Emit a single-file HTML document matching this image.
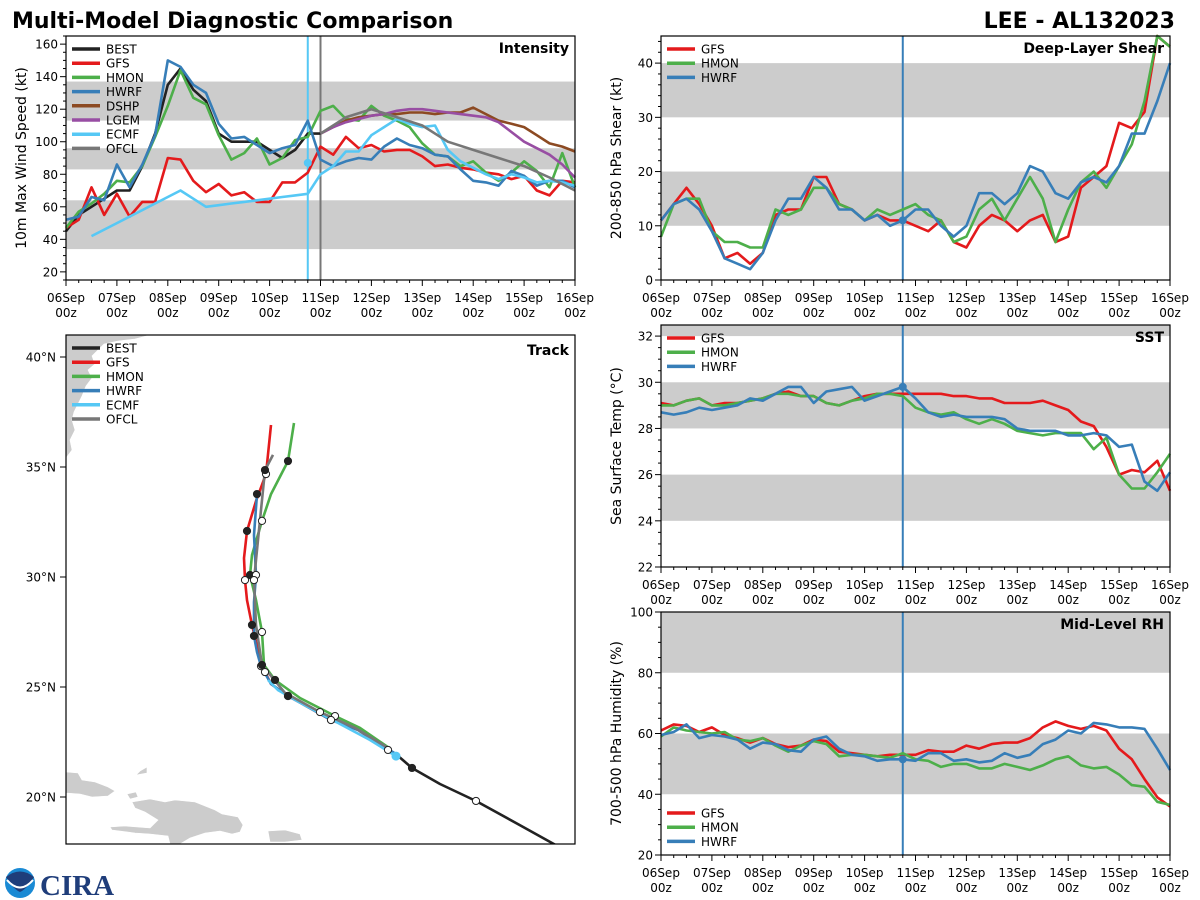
<!DOCTYPE html>
<html><head><meta charset="utf-8">
<style>
html,body{margin:0;padding:0;background:#fff;}
svg{display:block;font-family:"DejaVu Sans","Liberation Sans",sans-serif;}
</style></head>
<body>
<svg id="fig" width="1200" height="900" viewBox="0 0 1200 900" xmlns="http://www.w3.org/2000/svg">
<rect width="1200" height="900" fill="#fff"/>
<text x="12" y="28" font-size="22" font-weight="bold">Multi-Model Diagnostic Comparison</text>
<text x="1175" y="28" font-size="22" font-weight="bold" text-anchor="end">LEE - AL132023</text>
<g id="logo">
  <circle cx="20" cy="883" r="15" fill="#1a8ad4"/>
  <path d="M6,877 Q20,866 34,877 Q27,889 20,892 Q13,889 6,877Z" fill="#1f3d7a"/>
  <path d="M7,880 Q20,895 33,880" fill="none" stroke="#fff" stroke-width="2"/>
  <text x="40" y="895" font-size="29" font-weight="bold" fill="#1f3d7a" font-family="Liberation Serif,serif">CIRA</text>
</g>
</svg>
<script>
// ---------- DATA ----------
const dayLabels = ["06Sep","07Sep","08Sep","09Sep","10Sep","11Sep","12Sep","13Sep","14Sep","15Sep","16Sep"];
const N = null;
const intBEST = [45,55,60,65,70,70,85,105,135,145,132,125,105,100,100,100,95,90,95,105,105];
const intGFS  = [47,52,72,55,68,54,63,63,90,89,76,69,74,67,69,63,63,75,75,81,97,92,103,96,98,94,95,95,91,85,86,84,83,81,80,77,79,70,67,76,75];
const intHMON = [47,57,62,68,76,75,85,103,122,144,127,123,104,89,93,102,86,90,101,103,119,122,114,113,122,116,113,109,99,92,91,85,88,81,76,81,88,82,72,93,72];
const intHWRF = [52,54,66,64,86,72,86,104,150,146,135,130,111,102,103,98,93,96,98,113,89,85,88,90,89,97,102,98,96,92,91,83,76,75,73,82,79,73,76,76,72];
const intDSHP = [N,N,N,N,N,N,N,N,N,N,N,N,N,N,N,N,N,N,N,N,105,109,113,115,116,117,117,118,118,117,118,118,121,117,113,111,109,104,99,97,94];
const intLGEM = [N,N,N,N,N,N,N,N,N,N,N,N,N,N,N,N,N,N,N,N,105,109,112,114,116,117,119,120,120,119,118,117,116,115,112,106,100,96,92,86,78];
const intECMF = [N,N,42,46,50,54,58,62,66,70,65,60,61,62,63,64,65,66,67,68,80,85,94,94,104,109,114,111,109,110,95,88,84,80,77,80,78,75,76,75,73];
const intOFCL = [N,N,N,N,N,N,N,N,N,N,N,N,N,N,N,N,N,N,N,N,105,N,115,N,120,N,115,N,110,N,100,N,95,N,90,N,85,N,78,N,70];

const shrGFS  = [11,14,17,14,10,4,5,3,5,12,13,13,19,19,14,13,11,12,11,11,10,9,11,7,6,10,12,11,9,11,12,7,8,17,19,21,29,28,31,45,43];
const shrHMON = [8,14,15,15,9,7,7,6,6,13,12,13,17,17,14,13,11,13,12,13,14,12,11,7,8,13,15,11,15,19,15,7,13,18,20,17,21,25,33,45,43];
const shrHWRF = [11,14,15,13,9,4,3,2,5,11,15,15,19,17,13,13,11,12,10,11,13,13,10,8,10,16,16,14,16,21,20,16,15,18,19,18,21,27,27,33,40];

const sstGFS  = [29.1,29.0,29.2,29.3,29.0,29.1,29.1,29.2,29.3,29.5,29.6,29.4,29.4,29.1,29.0,29.2,29.4,29.5,29.5,29.5,29.5,29.5,29.5,29.4,29.4,29.3,29.3,29.1,29.1,29.1,29.2,29.0,28.8,28.3,28.1,27.2,26.0,26.2,26.1,26.6,25.3];
const sstHMON = [29.0,29.0,29.2,29.3,29.0,29.0,29.1,29.2,29.3,29.5,29.5,29.4,29.4,29.1,29.0,29.2,29.3,29.5,29.5,29.4,28.9,28.7,28.6,28.7,28.4,28.2,28.4,28.2,27.9,27.8,27.7,27.8,27.8,27.8,27.1,27.6,26.0,25.4,25.4,26.1,26.9];
const sstHWRF = [28.7,28.6,28.7,28.9,28.8,28.9,29.0,29.3,29.2,29.5,29.8,29.8,29.1,29.6,29.7,29.8,29.2,29.4,29.6,29.8,29.3,28.7,28.5,28.6,28.5,28.5,28.5,28.4,28.0,27.9,27.9,27.9,27.7,27.7,27.8,27.7,27.2,27.3,25.7,25.3,26.1];

const rhGFS  = [61,63,62.5,60.5,62,59.5,58.5,57,58.5,56.5,55.5,56,58,57.5,54,53.5,53,52.5,53,53,53,54.5,54,54,56,55,56.5,57,57,58.5,62,64,62.5,61.5,62.5,61,55,51.5,45,39,36];
const rhHMON = [59,62,61,60.5,60,60.5,58,57.5,58.5,56,54,56,57.5,56.5,52.5,53,53,52.5,52,53.5,51.5,51,49,50,50,48.5,48.5,50,49,48,49.5,51.5,52.5,49.5,48.5,49,46.5,43,42.5,37.5,36.5];
const rhHWRF = [59.5,60.5,63,58.5,59.5,59,58,55,57,56.5,54.5,54,58,59,55,53,52.5,51,51.5,51.5,51,53.5,53.5,51,51.5,50.5,51,53.5,52,53,56.5,58,61,60,63.5,63,62,62,61.5,55,48];

const trkBESTlon = [-47.8,-49.95,-52.05,-53.85,-55.25,-56.05,-56.45];
const trkBESTlat = [17.68,18.77,19.82,20.59,21.32,21.95,22.14];
const trkGFSlon = [-56.45,-57.95,-59.3,-60.8,-61.45,-62.3,-62.6,-62.95,-63.25,-63.5,-63.6,-63.65,-63.5,-63.05,-62.55,-62.3];
const trkGFSlat = [22.14,23.05,23.5,24.27,24.59,25.14,25.68,26.68,27.82,28.95,29.86,30.86,32.09,33.45,34.68,36.91];
const trkHWRFlon = [-56.05,-57.95,-59.3,-60.8,-61.45,-62.3,-62.8,-63.0,-63.15,-63.15,-63.05,-63.15,-63.0];
const trkHWRFlat = [21.95,23.05,23.5,24.27,24.59,25.14,25.95,26.59,27.32,28.86,30.09,31.91,33.77];
const trkHMONlon = [-56.35,-57.85,-59.1,-60.85,-62.1,-62.65,-62.75,-63.05,-63.35,-63.25,-62.75,-62.3,-61.45,-61.15];
const trkHMONlat = [22.2,23.14,23.68,24.5,25.32,26.0,27.5,28.95,30.09,31.0,32.55,33.77,35.27,37.0];
const trkECMFlon = [-56.05,-57.35,-58.85,-60.8,-61.95,-62.45];
const trkECMFlat = [21.86,22.59,23.32,24.27,24.86,25.32];
const trkOFCLlon = [-56.45,-58.1,-59.85,-61.6,-62.75,-63.05,-63.15,-62.95,-62.6,-62.2];
const trkOFCLlat = [22.23,23.14,23.86,24.73,26.0,27.82,29.86,31.68,34.86,35.55];
const latTicks = [40,35,30,25,20];

const C = {BEST:"#222222",GFS:"#e41a1c",HMON:"#4daf4a",HWRF:"#377eb8",DSHP:"#8c4a22",LGEM:"#984ea3",ECMF:"#56c8f5",OFCL:"#777777"};
const NS = "http://www.w3.org/2000/svg";
const svg = document.getElementById('fig');
function mk(tag, attrs, parent){ const e=document.createElementNS(NS,tag); for(const k in attrs) e.setAttribute(k,attrs[k]); (parent||svg).appendChild(e); return e; }

function timePanel(cfg){
  const g = mk('g',{});
  
  
  const {x0,x1,y0,y1,ymin,ymax} = cfg;
  const X = i => x0 + (x1-x0)*i/40;
  const Y = v => y1 - (y1-y0)*(v-ymin)/(ymax-ymin);
  cfg.bands.forEach(b=>{
    const r = mk('rect',{x:x0,y:Y(Math.min(b[1],ymax)),width:x1-x0,height:Y(b[0])-Y(Math.min(b[1],ymax)),fill:'#cccccc'},g);
    
    
  });
  cfg.vlines.forEach(v=>{
    const l = mk('line',{x1:X(v.i),x2:X(v.i),y1:y0,y2:y1,stroke:v.c,'stroke-width':2},g);
    
    
  });
  cfg.series.forEach(s=>{
    let d='', pen=false;
    s.v.forEach((v,i)=>{ if(v===null) return; d += (pen?'L':'M')+X(i).toFixed(1)+','+Y(v).toFixed(1); pen=true; });
    const p = mk('path',{d:d,fill:'none',stroke:C[s.k],'stroke-width':2.6,'stroke-linejoin':'round'},g);
    
    
  });
  if(cfg.dot){
    const c = mk('circle',{cx:X(19),cy:Y(cfg.dot.v),r:4,fill:cfg.dot.c},g);
    
    
  }
  mk('rect',{x:x0,y:y0,width:x1-x0,height:y1-y0,fill:'none',stroke:'#000','stroke-width':1.2},g);
  for(let i=0;i<=40;i++){
    const major = i%4===0;
    mk('line',{x1:X(i),x2:X(i),y1:y1,y2:y1+(major?6:3),stroke:'#000','stroke-width':1},g);
    if(major && cfg.xlabels){
      const t=mk('text',{x:X(i),y:y1+22,'font-size':12,'text-anchor':'middle'},g); t.textContent=dayLabels[i/4];
      
      
      const t2=mk('text',{x:X(i),y:y1+37,'font-size':12,'text-anchor':'middle'},g); t2.textContent='00z';
      
      
    }
  }
  for(let v=Math.ceil(ymin/cfg.minor)*cfg.minor; v<=ymax+1e-9; v+=cfg.minor){
    const major = Math.abs(v/cfg.major - Math.round(v/cfg.major))<1e-6;
    mk('line',{x1:x0,x2:x0-(major?6:3),y1:Y(v),y2:Y(v),stroke:'#000','stroke-width':1},g);
    if(major){
      const t=mk('text',{x:x0-8,y:Y(v)+4.5,'font-size':12,'text-anchor':'end'},g); t.textContent=String(Math.round(v));
      
      
    }
  }
  const yl = mk('text',{x:0,y:0,'font-size':14,'text-anchor':'middle',transform:`translate(${x0-40},${(y0+y1)/2}) rotate(-90)`},g);
  yl.textContent = cfg.ylabel;
  
  
  const tt = mk('text',{x:x1-6,y:y0+17,'font-size':14,'font-weight':'bold','text-anchor':'end'},g);
  tt.textContent = cfg.title;
  
  
  legend(g, x0+6, cfg.legY, cfg.series.map(s=>s.k));
}
function legend(g, lx, ly, keys){
  keys.forEach((k,j)=>{
    const y = ly + j*14.2;
    const l = mk('line',{x1:lx,x2:lx+28,y1:y,y2:y,stroke:C[k],'stroke-width':3.5},g);
    
    
    const t = mk('text',{x:lx+34,y:y+4.5,'font-size':12},g); t.textContent=k;
    
    
  });
}

timePanel({name:'intensity-panel',title:'Intensity',ylabel:'10m Max Wind Speed (kt)',x0:66,x1:575,y0:36,y1:280,ymin:15,ymax:165,major:20,minor:5,
  bands:[[34,64],[83,96],[113,137]],vlines:[{i:19,c:C.ECMF},{i:20,c:C.OFCL}],xlabels:true,legY:49,
  dot:{v:87,c:C.ECMF},
  series:[{k:'BEST',v:intBEST},{k:'GFS',v:intGFS},{k:'HMON',v:intHMON},{k:'HWRF',v:intHWRF},{k:'DSHP',v:intDSHP},{k:'LGEM',v:intLGEM},{k:'ECMF',v:intECMF},{k:'OFCL',v:intOFCL}]});
timePanel({name:'shear-panel',title:'Deep-Layer Shear',ylabel:'200-850 hPa Shear (kt)',x0:661,x1:1170,y0:36,y1:280,ymin:0,ymax:45,major:10,minor:2,
  bands:[[10,20],[30,40]],vlines:[{i:19,c:C.HWRF}],xlabels:true,legY:49,dot:{v:11,c:C.HWRF},
  series:[{k:'GFS',v:shrGFS},{k:'HMON',v:shrHMON},{k:'HWRF',v:shrHWRF}]});
timePanel({name:'sst-panel',title:'SST',ylabel:'Sea Surface Temp (°C)',x0:661,x1:1170,y0:325,y1:567,ymin:22,ymax:32.48,major:2,minor:0.5,
  bands:[[24,26],[28,30],[32,33]],vlines:[{i:19,c:C.HWRF}],xlabels:true,legY:338,dot:{v:29.8,c:C.HWRF},
  series:[{k:'GFS',v:sstGFS},{k:'HMON',v:sstHMON},{k:'HWRF',v:sstHWRF}]});
timePanel({name:'rh-panel',title:'Mid-Level RH',ylabel:'700-500 hPa Humidity (%)',x0:661,x1:1170,y0:612,y1:855,ymin:20,ymax:100,major:20,minor:5,
  bands:[[40,60],[80,100]],vlines:[{i:19,c:C.HWRF}],xlabels:true,legY:813,dot:{v:51.5,c:C.HWRF},
  series:[{k:'GFS',v:rhGFS},{k:'HMON',v:rhHMON},{k:'HWRF',v:rhHWRF}]});

// ---------- TRACK ----------
(function(){
  const g = mk('g',{});
  
  
  const x0=66,x1=575,y0=335,y1=844;
  const LX = lon => 66 + (lon+72.55)*20;
  const LY = lat => 357 + (40-lat)*22;
  const cp = mk('clipPath',{id:'trkclip'},g); mk('rect',{x:x0,y:y0,width:x1-x0,height:y1-y0},cp);
  const land = mk('g',{'clip-path':'url(#trkclip)',fill:'#cccccc',stroke:'#fff','stroke-width':0.6},g);
  
  
  [
   "M66,335 L150,335 L135,339 L118,341 L104,344 L98,350 L92,356 L95,364 L88,370 L92,378 L86,386 L82,396 L78,404 L74,412 L72,420 L75,430 L70,440 L72,450 L66,458Z",
   "M66,772 L78,773 L82,780 L95,782 L108,787 L115,791 L108,796 L92,797 L80,794 L66,793Z",
   "M127,794 L136,792 L138,797 L130,799Z",
   "M132,802 L150,799 L165,802 L175,800 L195,802 L205,806 L215,810 L222,814 L238,817 L243,825 L240,832 L232,834 L220,831 L205,833 L190,838 L180,844 L170,844 L168,836 L150,834 L135,833 L112,830 L110,827 L125,826 L150,828 L158,820 L145,812 L135,808Z",
   "M268,831 L285,830 L300,834 L302,840 L285,842 L270,842Z",
   "M140,771 L147,767 L147,773 L136,775Z"
  ].forEach(d=>mk('path',{d:d},land));
  const tg = mk('g',{'clip-path':'url(#trkclip)'},g);
  
  
  const tracks = [
    {k:'BEST',lon:trkBESTlon,lat:trkBESTlat},
    {k:'GFS',lon:trkGFSlon,lat:trkGFSlat},
    {k:'HMON',lon:trkHMONlon,lat:trkHMONlat},
    {k:'HWRF',lon:trkHWRFlon,lat:trkHWRFlat},
    {k:'ECMF',lon:trkECMFlon,lat:trkECMFlat},
    {k:'OFCL',lon:trkOFCLlon,lat:trkOFCLlat}
  ];
  tracks.forEach(t=>{
    const d = t.lon.map((lo,i)=>(i?'L':'M')+LX(lo).toFixed(1)+','+LY(t.lat[i]).toFixed(1)).join('');
    const p = mk('path',{d:d,fill:'none',stroke:C[t.k],'stroke-width':2.6,'stroke-linejoin':'round'},tg);
    
    
  });
  tracks.forEach(t=>{
    if(t.k==='ECMF') return;
    t.lon.forEach((lo,i)=>{
      if(i===0 || i%2) return;
      const white = (i/2)%2===1;
      const c = mk('circle',{cx:LX(lo),cy:LY(t.lat[i]),r:3.6,fill:white?'#fff':'#222',stroke:'#222','stroke-width':1},tg);
      
      
    });
  });
  const ec = mk('circle',{cx:LX(trkECMFlon[0]),cy:LY(trkECMFlat[0]),r:4.5,fill:C.ECMF},tg);
  
  
  mk('rect',{x:x0,y:y0,width:x1-x0,height:y1-y0,fill:'none',stroke:'#000','stroke-width':1.2},g);
  latTicks.forEach(v=>{
    mk('line',{x1:x0,x2:x0-6,y1:LY(v),y2:LY(v),stroke:'#000'},g);
    const t = mk('text',{x:x0-10,y:LY(v)+4.5,'font-size':12,'text-anchor':'end'},g);
    t.textContent = v+'°N';
    
    
  });
  const tt = mk('text',{x:x1-6,y:y0+20,'font-size':14,'font-weight':'bold','text-anchor':'end'},g);
  tt.textContent='Track';
  
  
  legend(g, x0+6, 348, ['BEST','GFS','HMON','HWRF','ECMF','OFCL']);
})();
</script>
</body></html>
